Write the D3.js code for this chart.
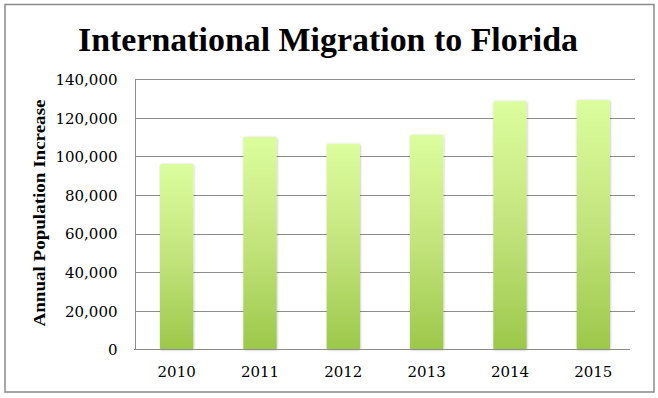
<!DOCTYPE html>
<html>
<head>
<meta charset="utf-8">
<script src="https://cdn.jsdelivr.net/npm/d3@7"></script>
<style>
  html, body { margin: 0; padding: 0; background: #fff; }
  svg { display: block; }
</style>
</head>
<body>
<svg id="chart" width="658" height="398"></svg>
<script>
const years = ["2010", "2011", "2012", "2013", "2014", "2015"];
const migration = [96000, 110000, 106500, 111000, 128500, 129000];
const yTicks = [0, 20000, 40000, 60000, 80000, 100000, 120000, 140000];
const titleText = "International Migration to Florida";
const yLabel = "Annual Population Increase";

const svg = d3.select("#chart");
const plot = { left: 135, right: 635, top: 79, bottom: 349.5 };
const serif = "'Liberation Serif', serif";
const tickFont = "'DejaVu Serif', serif";

const defs = svg.append("defs");
const grad = defs.append("linearGradient")
  .attr("id", "barGrad").attr("x1", 0).attr("y1", 0).attr("x2", 0).attr("y2", 1);
grad.append("stop").attr("offset", "0%").attr("stop-color", "#dcfd9d");
grad.append("stop").attr("offset", "50%").attr("stop-color", "#c3e47c");
grad.append("stop").attr("offset", "100%").attr("stop-color", "#9cc84a");
const shadow = defs.append("filter").attr("id", "shadow")
  .attr("x", "-20%").attr("y", "-5%").attr("width", "140%").attr("height", "110%");
shadow.append("feDropShadow").attr("dx", 0.5).attr("dy", 0.5)
  .attr("stdDeviation", 1).attr("flood-color", "#000").attr("flood-opacity", 0.25);

// outer frame
svg.append("rect")
  .attr("x", 5).attr("y", 4.5).attr("width", 649).attr("height", 387.5)
  .attr("fill", "#fff").attr("stroke", "#8a8a8a").attr("stroke-width", 1.5);

const x = d3.scaleBand().domain(years).range([plot.left, plot.right])
  .paddingInner(0.6).paddingOuter(0.3);
const y = d3.scaleLinear().domain([0, 140000]).range([plot.bottom, plot.top]);

// gridlines
svg.append("g").selectAll("line").data(yTicks.filter(d => d > 0)).join("line")
  .attr("x1", plot.left).attr("x2", plot.right)
  .attr("y1", d => Math.round(y(d)) + 0.5).attr("y2", d => Math.round(y(d)) + 0.5)
  .attr("stroke", "#8c8c8c").attr("stroke-width", 1);

// y axis
const yAxis = svg.append("g")
  .attr("transform", `translate(${plot.left + 0.5},0)`)
  .call(d3.axisLeft(y).tickValues(yTicks).tickFormat(d3.format(",")).tickSize(0).tickPadding(18));
yAxis.select(".domain").attr("stroke", "#8c8c8c").attr("d", `M0,${y(140000)}V${plot.bottom}`);
yAxis.selectAll("text").attr("font-family", tickFont).attr("font-size", 15).attr("fill", "#000")
  .attr("dy", "0.36em");

// bars
svg.append("g").selectAll("rect").data(migration).join("rect")
  .attr("x", (d, i) => x(years[i]))
  .attr("y", d => y(d))
  .attr("width", x.bandwidth())
  .attr("height", d => plot.bottom - y(d))
  .attr("rx", 1.5)
  .attr("fill", "url(#barGrad)")
  .attr("filter", "url(#shadow)");

// x axis
const xAxis = svg.append("g")
  .attr("transform", `translate(0,${Math.round(plot.bottom) - 0.5})`)
  .call(d3.axisBottom(x).tickSize(0).tickPadding(17));
xAxis.select(".domain").attr("stroke", "#8c8c8c").attr("d", `M${plot.left - 1},0H${plot.right - 5}`);
xAxis.selectAll("text").attr("font-family", tickFont).attr("font-size", 15).attr("fill", "#000")
  .attr("dy", "0.71em");

// title
svg.append("text")
  .attr("x", 328).attr("y", 51)
  .attr("text-anchor", "middle")
  .attr("font-family", serif).attr("font-weight", "bold").attr("font-size", 34)
  .attr("textLength", 500).attr("lengthAdjust", "spacingAndGlyphs")
  .attr("fill", "#000")
  .text(titleText);

// y label
svg.append("text")
  .attr("transform", `translate(45,213) rotate(-90)`)
  .attr("text-anchor", "middle")
  .attr("font-family", serif).attr("font-weight", "bold").attr("font-size", 16)
  .attr("textLength", 227).attr("lengthAdjust", "spacingAndGlyphs")
  .attr("fill", "#000")
  .text(yLabel);
</script>
</body>
</html>
